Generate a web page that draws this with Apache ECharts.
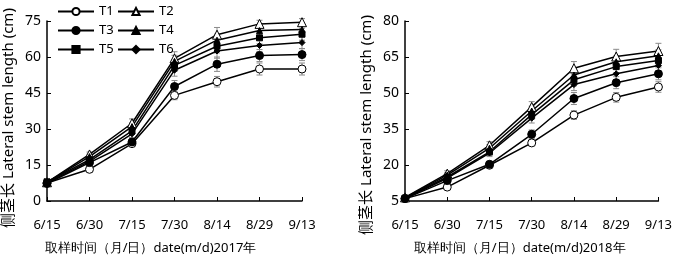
<!DOCTYPE html>
<html>
<head>
<meta charset="utf-8">
<script src="https://cdn.jsdelivr.net/npm/echarts@6/dist/echarts.min.js"></script>
<style>
  html, body { margin: 0; padding: 0; background: #fff; }
  #chart { width: 675px; height: 260px; }
</style>
</head>
<body>
<div id="chart"></div>
<script>
const dates = ['6/15', '6/30', '7/15', '7/30', '8/14', '8/29', '9/13']
const names = ['T1', 'T2', 'T3', 'T4', 'T5', 'T6']

// 2017
const t1A = [7.5, 13.2, 23.9, 44.0, 49.7, 55.0, 55.0]
const t2A = [7.8, 19.4, 32.4, 59.4, 69.3, 73.8, 74.5]
const t3A = [7.3, 16.0, 24.6, 47.7, 57.0, 60.6, 61.0]
const t4A = [7.8, 18.5, 31.0, 58.2, 67.0, 71.0, 71.5]
const t5A = [8.0, 17.2, 29.2, 56.5, 64.5, 68.0, 69.5]
const t6A = [7.6, 16.5, 28.0, 54.5, 62.5, 64.8, 66.0]
const e1A = [0.8, 1.0, 1.0, 1.8, 2.2, 2.5, 2.5]
const e2A = [0.8, 1.0, 1.8, 2.8, 3.0, 1.5, 1.5]
const e3A = [0.8, 1.0, 1.2, 2.5, 3.0, 2.5, 2.5]
const e4A = [0.8, 1.0, 1.5, 2.5, 2.5, 2.0, 2.0]
const e5A = [0.8, 1.0, 1.5, 2.5, 2.8, 2.5, 2.5]
const e6A = [0.8, 1.0, 1.5, 2.5, 3.0, 2.5, 2.5]

// 2018
const t1B = [6.0, 10.8, 19.9, 29.2, 40.8, 48.2, 52.5]
const t2B = [6.5, 16.4, 28.2, 44.2, 60.3, 65.2, 67.5]
const t3B = [6.0, 13.5, 20.3, 32.8, 47.7, 54.3, 58.0]
const t4B = [6.3, 15.8, 27.0, 42.5, 57.5, 63.0, 65.5]
const t5B = [6.2, 15.0, 25.5, 41.0, 55.5, 61.0, 63.5]
const t6B = [6.0, 14.5, 25.0, 39.5, 53.5, 58.0, 61.5]
const e1B = [0.8, 1.0, 1.0, 1.2, 1.8, 2.0, 2.2]
const e2B = [0.8, 1.2, 1.5, 2.2, 2.8, 3.0, 3.2]
const e3B = [0.8, 1.0, 1.2, 1.8, 2.5, 2.5, 2.5]
const e4B = [0.8, 1.0, 1.5, 2.0, 2.5, 2.5, 2.5]
const e5B = [0.8, 1.0, 1.5, 2.0, 2.5, 2.5, 2.5]
const e6B = [0.8, 1.0, 1.5, 2.0, 2.5, 2.5, 2.5]

const ticksA = { min: 0, max: 75, interval: 15 }
const ticksB = { min: 5, max: 80, interval: 15 }

const yTitle = '侧茎长 Lateral stem length (cm)'
const font = 'Noto Sans'
const styles = [
  { symbol: 'circle', size: 8, fill: '#fff' },
  { symbol: 'triangle', size: 9, fill: '#fff' },
  { symbol: 'circle', size: 8, fill: '#000' },
  { symbol: 'triangle', size: 6, fill: '#000' },
  { symbol: 'rect', size: 6, fill: '#000' },
  { symbol: 'diamond', size: 6, fill: '#000' }
]

function errorSeries (vals, errs, idx) {
  return {
    type: 'custom',
    xAxisIndex: idx,
    yAxisIndex: idx,
    silent: true,
    z: 1,
    data: vals.map((v, i) => [i, v - errs[i], v + errs[i]]),
    renderItem (params, api) {
      const lo = api.coord([api.value(0), api.value(1)])
      const hi = api.coord([api.value(0), api.value(2)])
      const w = 3
      const st = { stroke: '#8a8a8a', lineWidth: 1 }
      return {
        type: 'group',
        children: [
          { type: 'line', shape: { x1: lo[0], y1: lo[1], x2: hi[0], y2: hi[1] }, style: st },
          { type: 'line', shape: { x1: lo[0] - w, y1: lo[1], x2: lo[0] + w, y2: lo[1] }, style: st },
          { type: 'line', shape: { x1: hi[0] - w, y1: hi[1], x2: hi[0] + w, y2: hi[1] }, style: st }
        ]
      }
    }
  }
}

function lineSeries (name, vals, k, idx) {
  const s = styles[k]
  return {
    name: name,
    type: 'line',
    xAxisIndex: idx,
    yAxisIndex: idx,
    data: vals,
    z: 3,
    symbol: s.symbol,
    symbolSize: s.size,
    showAllSymbol: true,
    lineStyle: { color: '#000', width: 1.5 },
    itemStyle: { color: s.fill, borderColor: '#000', borderWidth: 1 }
  }
}

function xAxisOf (idx, title, shift) {
  return {
    type: 'category',
    gridIndex: idx,
    data: dates,
    boundaryGap: false,
    axisLine: { lineStyle: { color: '#000', width: 1.5 } },
    axisTick: { inside: true, length: 4, lineStyle: { color: '#000' } },
    axisLabel: { color: '#000', fontSize: 13, fontFamily: font, margin: 18 },
    name: title,
    nameLocation: 'middle',
    nameGap: 41,
    nameTextStyle: { color: '#000', fontSize: 13, fontFamily: font, padding: [0, shift, 0, 0] }
  }
}

function yAxisOf (idx, t) {
  return {
    type: 'value',
    gridIndex: idx,
    min: t.min,
    max: t.max,
    interval: t.interval,
    axisLine: { show: true, lineStyle: { color: '#000', width: 1.5 } },
    axisTick: { show: true, inside: true, length: 4, lineStyle: { color: '#000' } },
    splitLine: { show: false },
    axisLabel: { color: '#000', fontSize: 14, fontFamily: font, margin: 6 }
  }
}

function yTitleText (x, y) {
  return {
    type: 'text',
    x: x,
    y: y,
    rotation: Math.PI / 2,
    style: {
      text: yTitle,
      fill: '#000',
      font: '15px "Noto Sans", "Noto Sans CJK SC"',
      align: 'center',
      verticalAlign: 'middle'
    }
  }
}

const valsA = [t1A, t2A, t3A, t4A, t5A, t6A]
const errsA = [e1A, e2A, e3A, e4A, e5A, e6A]
const valsB = [t1B, t2B, t3B, t4B, t5B, t6B]
const errsB = [e1B, e2B, e3B, e4B, e5B, e6B]

const series = []
valsA.forEach((v, k) => series.push(errorSeries(v, errsA[k], 0)))
valsB.forEach((v, k) => series.push(errorSeries(v, errsB[k], 1)))
valsA.forEach((v, k) => series.push(lineSeries(names[k], v, k, 0)))
valsB.forEach((v, k) => series.push(lineSeries(names[k], v, k, 1)))

const legendBase = {
  orient: 'vertical',
  top: 0,
  itemWidth: 36,
  itemHeight: 9,
  itemGap: 6,
  textStyle: { color: '#000', fontSize: 13, fontFamily: font },
  selectedMode: false
}

const chart = echarts.init(document.getElementById('chart'), null, { renderer: 'canvas' })
chart.setOption({
  animation: false,
  backgroundColor: '#fff',
  grid: [
    { left: 47, right: 373, top: 21, bottom: 56 },
    { left: 405, right: 15, top: 21, bottom: 59 }
  ],
  legend: [
    Object.assign({}, legendBase, { left: 52, data: ['T1', 'T3', 'T5'] }),
    Object.assign({}, legendBase, { left: 112, data: ['T2', 'T4', 'T6'] })
  ],
  xAxis: [
    xAxisOf(0, '取样时间（月/日）date(m/d)2017年', 48),
    xAxisOf(1, '取样时间（月/日）date(m/d)2018年', 24)
  ],
  yAxis: [yAxisOf(0, ticksA), yAxisOf(1, ticksB)],
  graphic: [yTitleText(9, 118), yTitleText(367, 125)],
  series: series
})
</script>
</body>
</html>
